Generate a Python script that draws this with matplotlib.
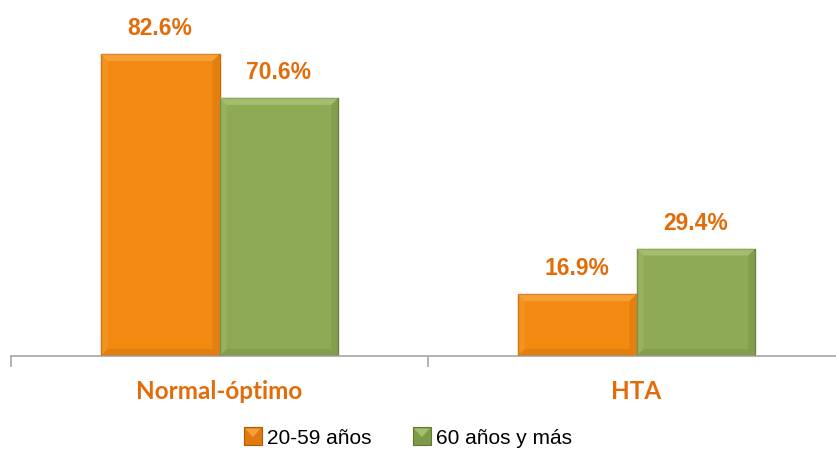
import matplotlib.pyplot as plt
import numpy as np
from matplotlib.patches import Polygon, Rectangle
from matplotlib.legend_handler import HandlerBase

# data
categorias = ['Normal-óptimo', 'HTA']
series = ['20-59 años', '60 años y más']
valores_20_59 = [82.6, 16.9]
valores_60 = [70.6, 29.4]

naranja = '#F28A12'
naranja_borde = '#C96A08'
verde = '#8FAA55'
verde_borde = '#6B8640'
texto_naranja = '#E36C0A'

fig = plt.figure(figsize=(8.36, 4.51), dpi=100)
# axis runs a bit past the right edge, like the original
ax = fig.add_axes([11 / 836, 95 / 451, 834 / 836, 356 / 451])

x = np.arange(len(categorias))
w = 0.285
b1 = ax.bar(x - w / 2, valores_20_59, w, color=naranja, edgecolor=naranja_borde, lw=1.0, zorder=2)
b2 = ax.bar(x + w / 2, valores_60, w, color=verde, edgecolor=verde_borde, lw=1.0, zorder=2)


def bisel(barras, claro, oscuro):
    # soft bevel: lighter top, slightly darker bottom and right side
    for r in barras:
        x0, y0 = r.get_x(), r.get_y()
        x1, y1 = x0 + r.get_width(), y0 + r.get_height()
        dx = 0.017
        dy = 1.9
        ax.add_patch(Polygon([(x0, y1), (x1, y1), (x1 - dx, y1 - dy), (x0 + dx, y1 - dy)],
                             closed=True, fc=claro, ec='none', alpha=0.4, zorder=3))
        ax.add_patch(Polygon([(x1, y1), (x1, y0), (x1 - dx, y0 + dy), (x1 - dx, y1 - dy)],
                             closed=True, fc=oscuro, ec='none', alpha=0.18, zorder=3))
        ax.add_patch(Polygon([(x0, y0), (x1, y0), (x1 - dx, y0 + dy), (x0 + dx, y0 + dy)],
                             closed=True, fc=oscuro, ec='none', alpha=0.18, zorder=3))
        ax.add_patch(Polygon([(x0, y1), (x0, y0), (x0 + dx, y0 + dy), (x0 + dx, y1 - dy)],
                             closed=True, fc=claro, ec='none', alpha=0.15, zorder=3))


bisel(b1, '#FFC070', '#A05000')
bisel(b2, '#C8DC98', '#4E6A28')

for barras in (b1, b2):
    for r in barras:
        ax.text(r.get_x() + r.get_width() / 2, r.get_height() + 5.2, f'{r.get_height():.1f}%',
                ha='center', va='baseline', fontsize=16.5, fontweight='bold', color=texto_naranja,
                family=['Liberation Sans', 'DejaVu Sans'], zorder=4)

ax.set_xlim(-0.5, 1.5)
ax.set_ylim(0, 97.4)
ax.set_yticks([])
for s in ['top', 'right', 'left']:
    ax.spines[s].set_visible(False)
ax.spines['bottom'].set_color('#A6A6A6')
ax.spines['bottom'].set_linewidth(1.2)
ax.set_xticks([-0.5, 0.5, 1.5])
ax.set_xticklabels([])
ax.tick_params(axis='x', length=8, width=1.2, color='#A6A6A6')
ax.set_xticks(x, minor=True)
ax.set_xticklabels(categorias, minor=True, fontsize=17.5, fontweight='bold', color=texto_naranja,
                   family=['Lato', 'DejaVu Sans'])
ax.tick_params(axis='x', which='minor', length=0, pad=17)


class Cuadro(HandlerBase):
    def __init__(self, fc, ec, claro):
        super().__init__()
        self.fc, self.ec, self.claro = fc, ec, claro

    def create_artists(self, legend, orig_handle, xd, yd, width, height, fontsize, trans):
        s = 13
        x0 = xd + width - s - 2
        y0 = yd + (height - s) / 2
        r = Rectangle((x0, y0), s, s, fc=self.fc, ec=self.ec, lw=0.8, transform=trans)
        t = Polygon([(x0 + 1, y0 + s - 1), (x0 + s - 1, y0 + s - 1), (x0 + s / 2, y0 + s * 0.45)],
                    closed=True, fc=self.claro, ec='none', alpha=0.7, transform=trans)
        return [r, t]


h1 = Rectangle((0, 0), 1, 1)
h2 = Rectangle((0, 0), 1, 1)
fig.legend([h1, h2], series, loc='center', bbox_to_anchor=(0.489, (451 - 438) / 451),
           ncol=2, frameon=False, handler_map={h1: Cuadro('#E07A10', '#B05A00', '#FFB050'),
                                               h2: Cuadro('#7E9A48', '#5E7A30', '#B8D080')},
           prop={'family': ['Liberation Sans', 'DejaVu Sans'], 'size': 15},
           handlelength=0.9, handletextpad=0.1, columnspacing=2.1, borderaxespad=0)

fig.savefig('out.png', dpi=100)
